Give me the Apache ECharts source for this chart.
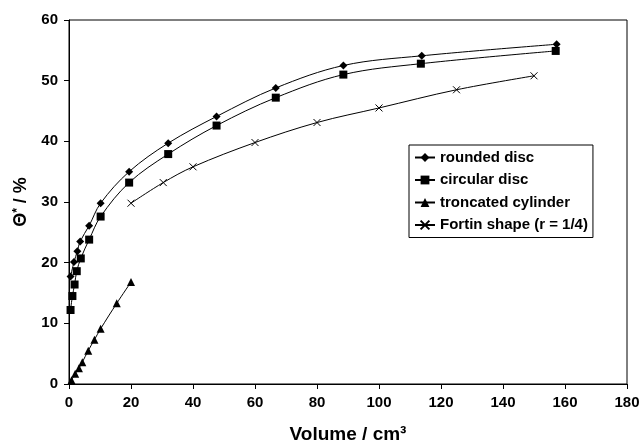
<!DOCTYPE html>
<html>
<head>
<meta charset="utf-8">
<script src="https://cdn.jsdelivr.net/npm/echarts@6/dist/echarts.min.js"></script>
<style>html,body{margin:0;padding:0;background:#fff}#c{width:642px;height:444px}</style>
</head>
<body>
<div id="c"></div>
<script>
const roundedDisc = [[0.5,17.7],[1.6,20.1],[2.7,21.9],[3.6,23.5],[6.5,26.1],[10.2,29.8],[19.4,35.0],[32,39.7],[47.6,44.1],[66.7,48.8],[88.5,52.5],[113.8,54.1],[157.3,56.0]];
const circularDisc = [[0.5,12.2],[1.1,14.5],[1.8,16.4],[2.5,18.6],[3.8,20.7],[6.5,23.8],[10.2,27.6],[19.4,33.2],[32,37.9],[47.6,42.6],[66.7,47.2],[88.5,51.0],[113.5,52.8],[157,54.9]];
const troncatedCylinder = [[0.8,0.6],[2,1.7],[3.2,2.6],[4.3,3.6],[6.2,5.5],[8.2,7.3],[10.2,9.1],[15.4,13.3],[20,16.8]];
const fortinShape = [[20,29.8],[30.4,33.2],[40,35.8],[60,39.8],[80,43.1],[100,45.5],[125,48.5],[150,50.8]];
const seriesNames = ['rounded disc','circular disc','troncated cylinder','Fortin shape (r = 1/4)'];

const font = 'Arial, "Liberation Sans", sans-serif';
const chart = echarts.init(document.getElementById('c'), null, {renderer:'canvas'});
const base = {type:'line', smooth:0.35, lineStyle:{color:'#000', width:1}, itemStyle:{color:'#000'}, animation:false};
chart.setOption({
  animation:false,
  grid:{left:69, top:20, right:15, bottom:60, show:true, borderColor:'#000', borderWidth:1, containLabel:false, outerBoundsMode:'none'},
  legend:{
    orient:'vertical', left:409, top:145,
    padding:[5,5,5,5], itemGap:7.5, itemWidth:20, itemHeight:11,
    borderColor:'#000', borderWidth:1, backgroundColor:'#fff',
    textStyle:{fontFamily:font, fontWeight:'bold', fontSize:15, lineHeight:15, color:'#000'},
    data:seriesNames
  },
  xAxis:{
    type:'value', min:0, max:180, interval:20,
    name:'Volume / cm³', nameLocation:'middle', nameGap:41,
    nameTextStyle:{fontFamily:font, fontWeight:'bold', fontSize:19, color:'#000'},
    axisLine:{lineStyle:{color:'#000', width:1}},
    axisTick:{show:true, inside:false, length:5, lineStyle:{color:'#000'}},
    axisLabel:{fontFamily:font, fontWeight:'bold', fontSize:15, color:'#000', margin:11},
    splitLine:{show:false}
  },
  yAxis:{
    type:'value', min:0, max:60, interval:10,
    name:'{a|Θ}{s|*}{a| / %}', nameLocation:'middle', nameGap:36, nameRotate:90,
    nameTextStyle:{rich:{
      a:{fontFamily:font, fontWeight:'bold', fontSize:18, color:'#000'},
      s:{fontFamily:font, fontWeight:'bold', fontSize:12, color:'#000', verticalAlign:'top', padding:[0,0,7,0]}
    }},
    axisLine:{show:true, lineStyle:{color:'#000', width:1}},
    axisTick:{show:true, inside:false, length:5, lineStyle:{color:'#000'}},
    axisLabel:{fontFamily:font, fontWeight:'bold', fontSize:15, color:'#000', margin:11},
    splitLine:{show:false}
  },
  series:[
    Object.assign({}, base, {name:seriesNames[0], data:roundedDisc, symbol:'diamond', symbolSize:8}),
    Object.assign({}, base, {name:seriesNames[1], data:circularDisc, symbol:'rect', symbolSize:8}),
    Object.assign({}, base, {name:seriesNames[2], data:troncatedCylinder, symbol:'triangle', symbolSize:8}),
    Object.assign({}, base, {name:seriesNames[3], data:fortinShape, symbol:'path://M0,0L10,10M10,0L0,10', symbolSize:7,
      itemStyle:{color:'#000', borderColor:'#000', borderWidth:1}})
  ]
});
</script>
</body>
</html>
